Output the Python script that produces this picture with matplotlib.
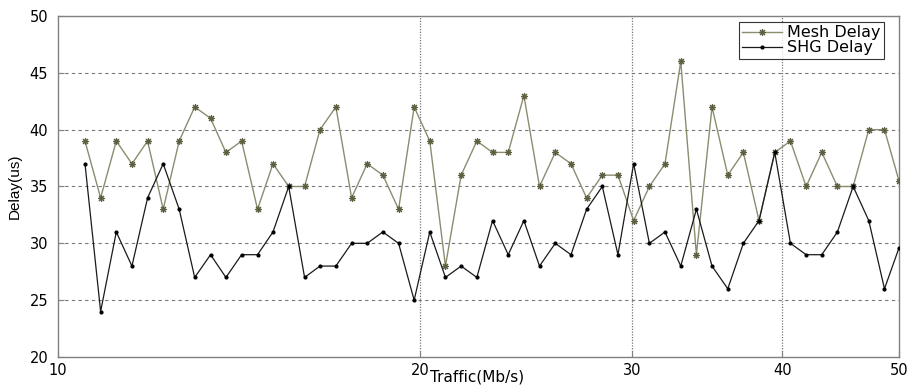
import matplotlib
matplotlib.use("Agg")
import matplotlib.pyplot as plt
from matplotlib.ticker import FixedLocator, NullLocator, FixedFormatter

plt.rcParams['font.family'] = ['DejaVu Sans']

traffic = [10.53, 10.85, 11.18, 11.52, 11.87, 12.23, 12.61, 12.99, 13.39, 13.79,
           14.21, 14.65, 15.09, 15.55, 16.03, 16.51, 17.02, 17.54, 18.07, 18.62,
           19.19, 19.77, 20.37, 20.99, 21.63, 22.29, 22.97, 23.67, 24.39, 25.13,
           25.90, 26.69, 27.50, 28.34, 29.20, 30.09, 31.01, 31.95, 32.93, 33.93,
           34.96, 36.03, 37.12, 38.25, 39.42, 40.62, 41.86, 43.13, 44.44, 45.80,
           47.19, 48.63, 50.0]

mesh_delay = [39, 34, 39, 37, 39, 33, 39, 42, 41, 38,
              39, 33, 37, 35, 35, 40, 42, 34, 37, 36,
              33, 42, 39, 28, 36, 39, 38, 38, 43, 35,
              38, 37, 34, 36, 36, 32, 35, 37, 46, 29,
              42, 36, 38, 32, 38, 39, 35, 38, 35, 35,
              40, 40, 35.5]

shg_delay = [37, 24, 31, 28, 34, 37, 33, 27, 29, 27,
             29, 29, 31, 35, 27, 28, 28, 30, 30, 31,
             30, 25, 31, 27, 28, 27, 32, 29, 32, 28,
             30, 29, 33, 35, 29, 37, 30, 31, 28, 33,
             28, 26, 30, 32, 38, 30, 29, 29, 31, 35,
             32, 26, 29.6]

x_ticks = [10, 20, 30, 40, 50]
x_tick_labels = ['10', '20', '30', '40', '50']
y_ticks = [20, 25, 30, 35, 40, 45, 50]

fig = plt.figure(figsize=(9.07, 3.87), dpi=100)
ax = fig.add_axes([58/907, 1 - 357/387, (899 - 58)/907, (357 - 16)/387])

ax.plot(traffic, mesh_delay, color='#8c8c70', lw=1.0, marker=(8, 2, 0), ms=5,
        mew=0.8, mfc='#5e5e40', mec='#5e5e40', label='Mesh Delay', zorder=3)
ax.plot(traffic, shg_delay, color='#1a1a1a', lw=0.9, marker='.', ms=4,
        mfc='black', mec='black', label='SHG Delay', zorder=4)

ax.set_xscale('log')
ax.set_xlim(10, 50)
ax.set_ylim(20, 50)
ax.xaxis.set_major_locator(FixedLocator(x_ticks))
ax.xaxis.set_major_formatter(FixedFormatter(x_tick_labels))
ax.xaxis.set_minor_locator(NullLocator())
ax.set_yticks(y_ticks)

for v in [25, 30, 35, 40, 45]:
    ax.axhline(v, color='#777777', lw=0.8, ls=(0, (3, 3)), zorder=1)
for v in [20, 30, 40]:
    ax.axvline(v, color='#777777', lw=0.9, ls=(0, (1, 1.2)), zorder=1)

for s in ax.spines.values():
    s.set_color('#808080')
    s.set_linewidth(1.0)

ax.tick_params(axis='both', direction='in', length=4, width=0.8, colors='#808080',
               labelcolor='black', labelsize=10.5)
ax.tick_params(axis='y', pad=7)
ax.tick_params(axis='x', pad=4)

ax.set_ylabel('Delay(us)', fontsize=11, family=['Liberation Sans', 'DejaVu Sans'])
ax.yaxis.set_label_coords(-0.043, 0.5)
ax.set_xlabel('Traffic(Mb/s)', fontsize=11)
ax.xaxis.set_label_coords(0.498, -0.038)

leg = ax.legend(loc='upper right', bbox_to_anchor=(0.982, 0.982), fontsize=11.5,
                frameon=True, fancybox=False, edgecolor='black', borderpad=0.2,
                handlelength=2.5, handletextpad=0.3, labelspacing=0.0,
                borderaxespad=0.0)
leg.get_frame().set_linewidth(0.8)

fig.savefig('out.png', dpi=100)
